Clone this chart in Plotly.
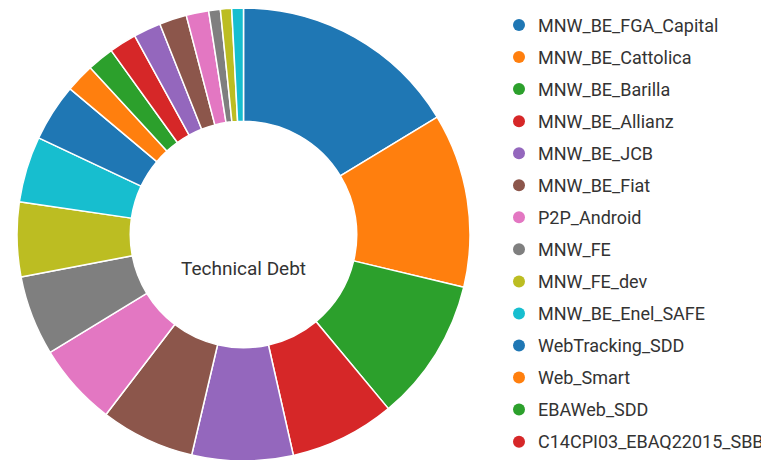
import plotly.graph_objects as go

labels = [
    "MNW_BE_FGA_Capital", "MNW_BE_Cattolica", "MNW_BE_Barilla", "MNW_BE_Allianz",
    "MNW_BE_JCB", "MNW_BE_Fiat", "P2P_Android", "MNW_FE", "MNW_FE_dev",
    "MNW_BE_Enel_SAFE", "WebTracking_SDD", "Web_Smart", "EBAWeb_SDD",
    "C14CPI03_EBAQ22015_SBB", "Project_15", "Project_16", "Project_17",
    "Project_18", "Project_19", "Project_20",
]
values = [163, 124, 102, 75, 72, 67, 59, 57, 53, 47, 41, 20.5, 19, 19.5, 19.5, 19.5, 16, 8.3, 8, 8.3]
center_label = "Technical Debt"

palette = ["#1f77b4", "#ff7f0e", "#2ca02c", "#d62728", "#9467bd",
           "#8c564b", "#e377c2", "#7f7f7f", "#bcbd22", "#17becf"]
colors = [palette[i % len(palette)] for i in range(len(labels))]

W, H = 769, 460
OFF = 8  # page body margin offset
fig = go.Figure()
cx, cy, r = 243.5 - OFF, 234.5 - OFF, 226.5
fig.add_trace(go.Pie(
    labels=labels, values=values, sort=False, direction="clockwise", rotation=0,
    hole=0.5, textinfo="none", showlegend=False,
    marker=dict(colors=colors, line=dict(color="white", width=1.5)),
    domain=dict(x=[(cx - r) / W, (cx + r) / W], y=[1 - (cy + r) / H, 1 - (cy - r) / H]),
))

font = "Roboto, 'Open Sans', sans-serif"
annotations = [dict(text=center_label, x=cx / W, y=1 - (268 - OFF) / H, xref="paper", yref="paper",
                    showarrow=False, xanchor="center", yanchor="middle",
                    font=dict(family=font, size=19, color="#333333"))]
shapes = []
y0, dy = 25 - OFF, 32.05
for i, (lab, col) in enumerate(zip(labels, colors)):
    ypix = y0 + dy * i
    if ypix + OFF + 8 > H:  # legend entries beyond the visible page area are not drawn
        break
    yp = 1 - ypix / H
    annotations.append(dict(text=lab, x=(536 - OFF) / W, y=yp, xref="paper", yref="paper",
                            showarrow=False, xanchor="left", yanchor="middle",
                            font=dict(family=font, size=18, color="#333333")))
    shapes.append(dict(type="circle", xref="paper", yref="paper",
                       xsizemode="pixel", ysizemode="pixel",
                       xanchor=(519 - OFF) / W, yanchor=yp, x0=-6, x1=6, y0=-6, y1=6,
                       fillcolor=col, line=dict(width=0)))

fig.update_layout(
    width=W, height=H, margin=dict(l=0, r=0, t=0, b=0),
    paper_bgcolor="white", plot_bgcolor="white",
    annotations=annotations, shapes=shapes,
)
fig.write_html("out.html")
